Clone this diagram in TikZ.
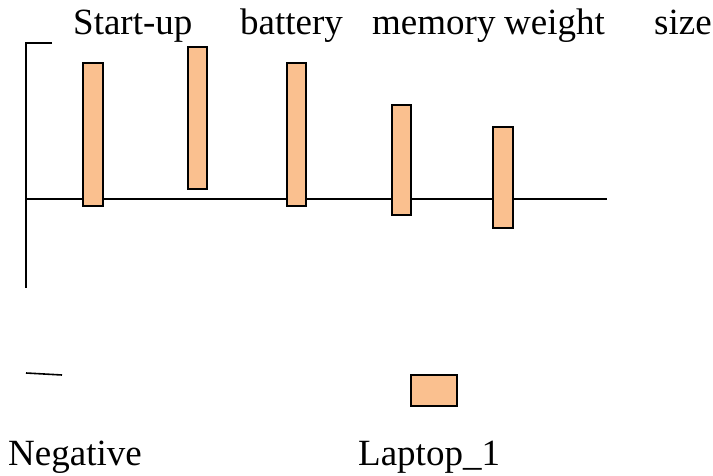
\documentclass[tikz,border=0pt]{standalone}
\usepackage{fontspec}
\setmainfont{Liberation Serif}
\definecolor{barfill}{RGB}{250,192,143}
\begin{document}
\begin{tikzpicture}[x=1pt,y=-1pt,
  axis/.style={line width=1.6pt,black},
  bar/.style={draw=black,line width=1.8pt,fill=barfill},
  lbl/.style={anchor=base west,inner sep=0pt,font=\fontsize{37}{42}\selectfont}]
\useasboundingbox (0,0) rectangle (713,476);
% axes
\draw[axis] (52,43) -- (26,43) -- (26,288);
\draw[axis] (26,199) -- (607,199);
\draw[axis] (26,373) -- (62,375);
% bars
\draw[bar] (83,63) rectangle (103,206);
\draw[bar] (188,47) rectangle (207,189);
\draw[bar] (287,63) rectangle (306,206);
\draw[bar] (392,105) rectangle (411,215);
\draw[bar] (493,127) rectangle (513,228);
% legend
\draw[bar] (411,375) rectangle (457,406);
% labels
\node[lbl] (l1) at (73,35) {Start-up};
\node[lbl] (l2) at (240,35) {battery};
\node[lbl] (l3) at (372,35) {memory};
\node[lbl] (l4) at (504,35) {weight};
\node[lbl] (l5) at (654,35) {size};
\node[lbl] (neg) at (8,465) {Negative};
\node[lbl] (lap) at (358,465) {Laptop\_1};
\end{tikzpicture}
\end{document}
